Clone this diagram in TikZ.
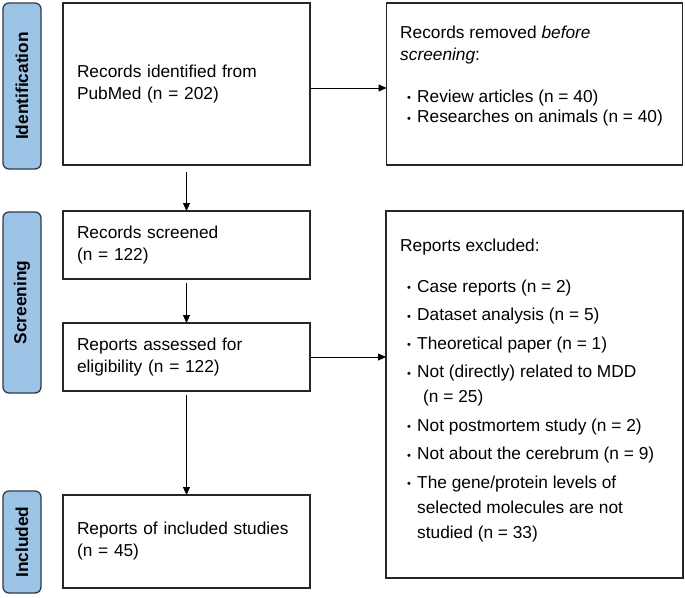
\documentclass[tikz,border=0pt]{standalone}
\usepackage{fontspec}
\setmainfont{Liberation Sans}
\usetikzlibrary{arrows.meta}
\definecolor{lblfill}{HTML}{9DC3E6}
\definecolor{lbldraw}{HTML}{2E3B4E}
\newcommand{\mybul}{\makebox[10pt][l]{\fontsize{11}{11}\selectfont\raisebox{0.5pt}{•}}}
\begin{document}
\begin{tikzpicture}[x=1pt,y=-1pt,
  box/.style={draw=black!85, line width=1.2pt, inner sep=0pt, outer sep=0pt},
  lbox/.style={box, minimum width=247pt, text width=219pt, inner xsep=14pt, inner ysep=0pt, align=left, font=\fontsize{17.3}{22}\selectfont},
  stage/.style={draw=lbldraw, fill=lblfill, line width=1.3pt, rounded corners=6pt, rotate=90, minimum height=38pt, inner sep=0pt, font=\fontsize{17.3}{20}\selectfont\bfseries},
  arr/.style={line width=0.8pt, -{Triangle[length=8pt,width=7pt]}},
  txt/.style={anchor=base west, inner sep=0pt, font=\fontsize{17.3}{20}\selectfont},
]
\useasboundingbox (0,0) rectangle (685,597);

% stage labels
\node[stage, minimum width=166pt] (s1) at (22,86) {Identification};
\node[stage, minimum width=181pt] (s2) at (22,302.5) {Screening};
\node[stage, minimum width=102pt] (s3) at (22,542) {Included};

% left boxes
\node[lbox, minimum height=162pt] (b1) at (186.5,84) {Records identified from\\PubMed (n = 202)};
\node[lbox, minimum height=68pt] (b2) at (186.5,245) {Records screened\\(n = 122)};
\node[lbox, minimum height=68pt] (b3) at (186.5,357) {Reports assessed for\\eligibility (n = 122)};
\node[lbox, minimum height=93pt] (b4) at (186.5,541.5) {Reports of included studies\\(n = 45)};

% right boxes
\node[box, minimum width=296pt, minimum height=162pt] (r1) at (534.5,84) {};
\node[box, minimum width=297pt, minimum height=367pt] (r2) at (534.5,394.5) {};

% text of right box 1
\node[txt] (r1h1) at (400,38) {Records removed \textit{before}};
\node[txt] (r1h2) at (400,60) {\textit{screening}:};
\node[txt] (r1i1) at (407,102) {\mybul Review articles (n = 40)};
\node[txt] (r1i2) at (407,122.5) {\mybul Researches on animals (n = 40)};

% text of right box 2
\node[txt] (r2h) at (400,251) {Reports excluded:};
\node[txt] (r2i1) at (407,292) {\mybul Case reports (n = 2)};
\node[txt] (r2i2) at (407,320.5) {\mybul Dataset analysis (n = 5)};
\node[txt] (r2i3) at (407,349) {\mybul Theoretical paper (n = 1)};
\node[txt] (r2i4) at (407,377.5) {\mybul Not (directly) related to MDD};
\node[txt] (r2i4b) at (423,402.5) {(n = 25)};
\node[txt] (r2i5) at (407,431) {\mybul Not postmortem study (n = 2)};
\node[txt] (r2i6) at (407,459.5) {\mybul Not about the cerebrum (n = 9)};
\node[txt] (r2i7) at (407,488) {\mybul The gene/protein levels of};
\node[txt] (r2i7b) at (417,513) {selected molecules are not};
\node[txt] (r2i7c) at (417,538) {studied (n = 33)};

% connectors
\draw[arr] ([yshift=-4pt]b1.east) -- ([yshift=-4pt]b1.east -| r1.west);
\draw[arr] ([yshift=-7pt]b1.south) -- (b2.north);
\draw[arr] ([yshift=-4pt]b2.south) -- (b3.north);
\draw[arr] ([yshift=-4pt]b3.south) -- (b4.north);
\draw[arr] (b3.east) -- (b3.east -| r2.west);
\end{tikzpicture}
\end{document}
